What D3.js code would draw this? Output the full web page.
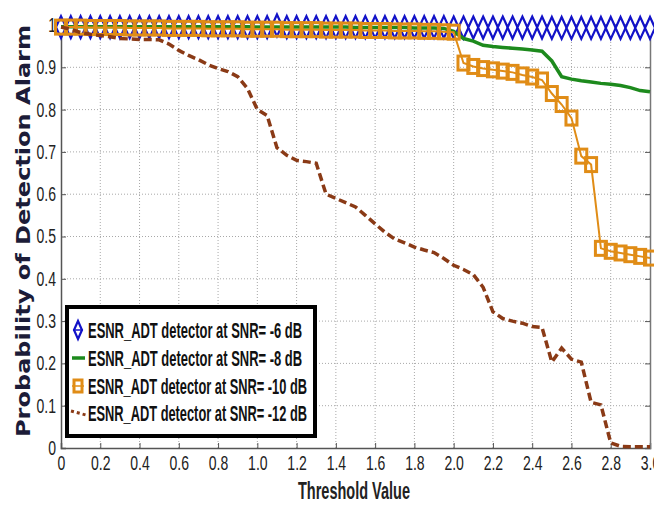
<!DOCTYPE html>
<html>
<head>
<meta charset="utf-8">
<script src="https://cdn.jsdelivr.net/npm/d3@7"></script>
<style>
  html, body { margin: 0; padding: 0; background: #fff; }
  svg { display: block; }
  .narrow { font-family: "Liberation Sans Narrow", "Arial Narrow", "Liberation Sans", Arial, sans-serif; }
</style>
</head>
<body>
<div id="chart"></div>
<script>
// threshold values (x), one point every 0.05
const thresholds = [
  0, 0.05, 0.1, 0.15, 0.2, 0.25, 0.3, 0.35, 0.4, 0.45,
  0.5, 0.55, 0.6, 0.65, 0.7, 0.75, 0.8, 0.85, 0.9, 0.95,
  1.0, 1.05, 1.1, 1.15, 1.2, 1.25, 1.3, 1.35, 1.4, 1.45,
  1.5, 1.55, 1.6, 1.65, 1.7, 1.75, 1.8, 1.85, 1.9, 1.95,
  2.0, 2.05, 2.1, 2.15, 2.2, 2.25, 2.3, 2.35, 2.4, 2.45,
  2.5, 2.55, 2.6, 2.65, 2.7, 2.75, 2.8, 2.85, 2.9, 2.95, 3.0
]

const snr6 = [
  0.995, 0.995, 0.995, 0.995, 0.995, 0.995, 0.995, 0.995, 0.995, 0.995,
  0.995, 0.995, 0.995, 0.995, 0.995, 0.995, 0.995, 0.995, 0.995, 0.995,
  0.995, 0.995, 0.999, 0.995, 0.995, 0.995, 0.995, 0.995, 0.995, 0.995,
  0.995, 0.995, 0.995, 0.995, 0.995, 0.995, 0.995, 0.995, 0.995, 0.995,
  0.994, 0.994, 0.994, 0.994, 0.994, 0.994, 0.994, 0.994, 0.994, 0.994,
  0.993, 0.993, 0.993, 0.993, 0.993, 0.993, 0.993, 0.993, 0.993, 0.993, 0.993
]

const snr8 = [
  0.996, 0.996, 0.996, 0.996, 0.996, 0.996, 0.996, 0.996, 0.996, 0.996,
  0.996, 0.996, 0.996, 0.996, 0.996, 0.996, 0.996, 0.996, 0.996, 0.996,
  0.995, 0.995, 0.995, 0.995, 0.995, 0.995, 0.995, 0.995, 0.995, 0.995,
  0.994, 0.994, 0.994, 0.994, 0.994, 0.994, 0.993, 0.993, 0.993, 0.992,
  0.985, 0.968, 0.962, 0.952, 0.949, 0.947, 0.945, 0.943, 0.941, 0.938,
  0.915, 0.878, 0.872, 0.868, 0.865, 0.862, 0.860, 0.857, 0.852, 0.845, 0.842
]

const snr10 = [
  0.995, 0.995, 0.995, 0.994, 0.994, 0.994, 0.994, 0.993, 0.993, 0.993,
  0.993, 0.992, 0.992, 0.992, 0.992, 0.991, 0.991, 0.991, 0.991, 0.990,
  0.990, 0.990, 0.990, 0.989, 0.989, 0.989, 0.989, 0.988, 0.988, 0.988,
  0.988, 0.987, 0.987, 0.987, 0.986, 0.986, 0.986, 0.985, 0.985, 0.984,
  0.983, 0.910, 0.902, 0.897, 0.894, 0.891, 0.888, 0.882, 0.877, 0.870,
  0.838, 0.812, 0.780, 0.690, 0.670, 0.472, 0.465, 0.461, 0.457, 0.453, 0.449
]

const snr12 = [
  0.995, 0.990, 0.982, 0.978, 0.975, 0.972, 0.968, 0.967, 0.966, 0.966,
  0.965, 0.955, 0.940, 0.928, 0.918, 0.906, 0.897, 0.890, 0.878, 0.850,
  0.800, 0.786, 0.710, 0.692, 0.680, 0.677, 0.673, 0.600, 0.590, 0.580,
  0.570, 0.550, 0.530, 0.510, 0.494, 0.485, 0.475, 0.468, 0.462, 0.448,
  0.432, 0.422, 0.410, 0.380, 0.322, 0.306, 0.300, 0.295, 0.287, 0.285,
  0.203, 0.236, 0.210, 0.203, 0.108, 0.102, 0.012, 0.004, 0.003, 0.003, 0.003
]

const seriesNames = [
  'ESNR_ADT detector at SNR= -6 dB',
  'ESNR_ADT detector at SNR= -8 dB',
  'ESNR_ADT detector at SNR= -10 dB',
  'ESNR_ADT detector at SNR= -12 dB'
]

const xTicks = [0, 0.2, 0.4, 0.6, 0.8, 1.0, 1.2, 1.4, 1.6, 1.8, 2.0, 2.2, 2.4, 2.6, 2.8, 3.0]
const xTickLabels = ['0', '0.2', '0.4', '0.6', '0.8', '1.0', '1.2', '1.4', '1.6', '1.8', '2.0', '2.2', '2.4', '2.6', '2.8', '3.0']
const yTicks = [0, 0.1, 0.2, 0.3, 0.4, 0.5, 0.6, 0.7, 0.8, 0.9, 1]
const yTickLabels = ['0', '0.1', '0.2', '0.3', '0.4', '0.5', '0.6', '0.7', '0.8', '0.9', '1']

const W = 654, H = 505
const margin = { top: 25, right: 4, bottom: 57, left: 61 }

const colors = { blue: '#1212c8', green: '#1d8a1d', orange: '#e08c16', brown: '#8a3a16' }

const svg = d3.select('#chart').append('svg')
  .attr('width', W)
  .attr('height', H)

const x = d3.scaleLinear().domain([0, 3]).range([margin.left, W - margin.right])
const y = d3.scaleLinear().domain([0, 1]).range([H - margin.bottom, margin.top])

// narrow look for text: squeeze glyphs horizontally
function squeeze(sel, f) {
  sel.each(function() {
    const w = this.getComputedTextLength()
    this.setAttribute('textLength', w * f)
    this.setAttribute('lengthAdjust', 'spacingAndGlyphs')
  })
}

// grid
const grid = svg.append('g')
grid.selectAll('line.gx')
  .data(xTicks.slice(1, -1))
  .enter().append('line')
  .attr('x1', d => x(d)).attr('x2', d => x(d))
  .attr('y1', y(0)).attr('y2', y(1))
  .attr('stroke', '#a8a8a8').attr('stroke-width', 1)
  .attr('stroke-dasharray', '1,2')
grid.selectAll('line.gy')
  .data(yTicks.slice(1, -1))
  .enter().append('line')
  .attr('y1', d => y(d)).attr('y2', d => y(d))
  .attr('x1', x(0)).attr('x2', x(3))
  .attr('stroke', '#a8a8a8').attr('stroke-width', 1)
  .attr('stroke-dasharray', '1,2')

// axes
const xAxis = d3.axisBottom(x).tickValues(xTicks)
  .tickFormat((d, i) => xTickLabels[i]).tickSize(-5).tickPadding(8)
const gx = svg.append('g')
  .attr('transform', `translate(0,${y(0)})`)
  .call(xAxis)
gx.select('.domain').attr('stroke', '#555').attr('stroke-width', 1.5)
gx.selectAll('.tick line').attr('stroke', '#555')
gx.selectAll('text')
  .attr('class', 'narrow')
  .attr('font-size', 20)
  .attr('fill', '#222')
  .call(squeeze, 0.7)

const yAxis = d3.axisLeft(y).tickValues(yTicks)
  .tickFormat((d, i) => yTickLabels[i]).tickSize(-5).tickPadding(5)
const gy = svg.append('g')
  .attr('transform', `translate(${x(0)},0)`)
  .call(yAxis)
gy.select('.domain').attr('stroke', '#555').attr('stroke-width', 1.5)
gy.selectAll('.tick line').attr('stroke', '#555')
gy.selectAll('text')
  .attr('class', 'narrow')
  .attr('font-size', 20)
  .attr('fill', '#222')
  .call(squeeze, 0.7)

// right and top box
const gr = svg.append('g')
  .attr('transform', `translate(${x(3)},0)`)
  .call(d3.axisRight(y).tickValues(yTicks).tickFormat('').tickSize(-5))
gr.select('.domain').attr('stroke', '#777').attr('stroke-width', 1.5)
gr.selectAll('.tick line').attr('stroke', '#555')
svg.append('line')
  .attr('x1', x(0)).attr('x2', x(3))
  .attr('y1', y(1)).attr('y2', y(1))
  .attr('stroke', '#333').attr('stroke-width', 1.2)

// series, in plotting order -6, -8, -10, -12
const pts = vals => thresholds.map((t, i) => [t, vals[i]])
const line = d3.line().x(d => x(d[0])).y(d => y(d[1]))

svg.append('path')
  .attr('d', line(pts(snr6)))
  .attr('fill', 'none')
  .attr('stroke', colors.blue)
  .attr('stroke-width', 1.5)
const diamond = (cx, cy) => `M${cx},${cy - 11}L${cx + 5},${cy}L${cx},${cy + 11}L${cx - 5},${cy}Z`
svg.append('g').selectAll('path')
  .data(pts(snr6))
  .enter().append('path')
  .attr('d', d => diamond(x(d[0]), y(d[1])))
  .attr('fill', '#fff')
  .attr('stroke', colors.blue)
  .attr('stroke-width', 2.2)

svg.append('path')
  .attr('d', line(pts(snr8)))
  .attr('fill', 'none')
  .attr('stroke', colors.green)
  .attr('stroke-width', 3.5)

svg.append('path')
  .attr('d', line(pts(snr10)))
  .attr('fill', 'none')
  .attr('stroke', colors.orange)
  .attr('stroke-width', 2)
svg.append('g').selectAll('rect')
  .data(pts(snr10))
  .enter().append('rect')
  .attr('x', d => x(d[0]) - 5.5)
  .attr('y', d => y(d[1]) - 7)
  .attr('width', 11).attr('height', 14)
  .attr('fill', 'none')
  .attr('stroke', colors.orange)
  .attr('stroke-width', 3)

svg.append('path')
  .attr('d', line(pts(snr12)))
  .attr('fill', 'none')
  .attr('stroke', colors.brown)
  .attr('stroke-width', 3.5)
  .attr('stroke-dasharray', '8,4')

// axis titles
svg.append('text')
  .attr('class', 'narrow')
  .attr('x', 354).attr('y', 499)
  .attr('text-anchor', 'middle')
  .attr('font-size', 24)
  .attr('font-weight', 'bold')
  .attr('fill', '#222')
  .attr('textLength', 112)
  .attr('lengthAdjust', 'spacingAndGlyphs')
  .text('Threshold Value')

svg.append('text')
  .attr('transform', 'translate(30,231) rotate(-90)')
  .attr('text-anchor', 'middle')
  .attr('font-family', '"DejaVu Sans", Verdana, sans-serif')
  .attr('font-size', 20)
  .attr('font-weight', 'bold')
  .attr('fill', '#1c1c38')
  .attr('textLength', 412)
  .attr('lengthAdjust', 'spacingAndGlyphs')
  .text('Probability of Detection Alarm')

// legend
const lg = svg.append('g')
lg.append('rect')
  .attr('x', 67).attr('y', 307)
  .attr('width', 248).attr('height', 129)
  .attr('fill', '#fff')
  .attr('stroke', '#000')
  .attr('stroke-width', 4)

const legendY = [330, 358, 386, 413]
const legendW = [214, 214, 219, 219]
seriesNames.forEach((name, i) => {
  const ly = legendY[i]
  if (i === 0) {
    lg.append('path').attr('d', `M78,${ly - 9}L82,${ly}L78,${ly + 9}L74,${ly}Z`)
      .attr('fill', '#fff').attr('stroke', colors.blue).attr('stroke-width', 2.2)
    lg.append('line').attr('x1', 73).attr('x2', 83).attr('y1', ly).attr('y2', ly)
      .attr('stroke', colors.blue).attr('stroke-width', 1.5)
  } else if (i === 1) {
    lg.append('line').attr('x1', 72).attr('x2', 85).attr('y1', ly).attr('y2', ly)
      .attr('stroke', colors.green).attr('stroke-width', 3.5)
  } else if (i === 2) {
    lg.append('rect').attr('x', 74).attr('y', ly - 6).attr('width', 8).attr('height', 12)
      .attr('fill', 'none').attr('stroke', colors.orange).attr('stroke-width', 3)
    lg.append('line').attr('x1', 72).attr('x2', 84).attr('y1', ly).attr('y2', ly)
      .attr('stroke', colors.orange).attr('stroke-width', 1.5)
  } else {
    lg.append('line').attr('x1', 71).attr('x2', 86).attr('y1', ly - 2).attr('y2', ly + 2)
      .attr('stroke', colors.brown).attr('stroke-width', 3).attr('stroke-dasharray', '3,3')
  }
  lg.append('text')
    .attr('class', 'narrow')
    .attr('x', 88).attr('y', ly + 8)
    .attr('font-size', 22)
    .attr('font-weight', 'bold')
    .attr('fill', '#111')
    .attr('textLength', legendW[i])
    .attr('lengthAdjust', 'spacingAndGlyphs')
    .text(name)
})
</script>
</body>
</html>
